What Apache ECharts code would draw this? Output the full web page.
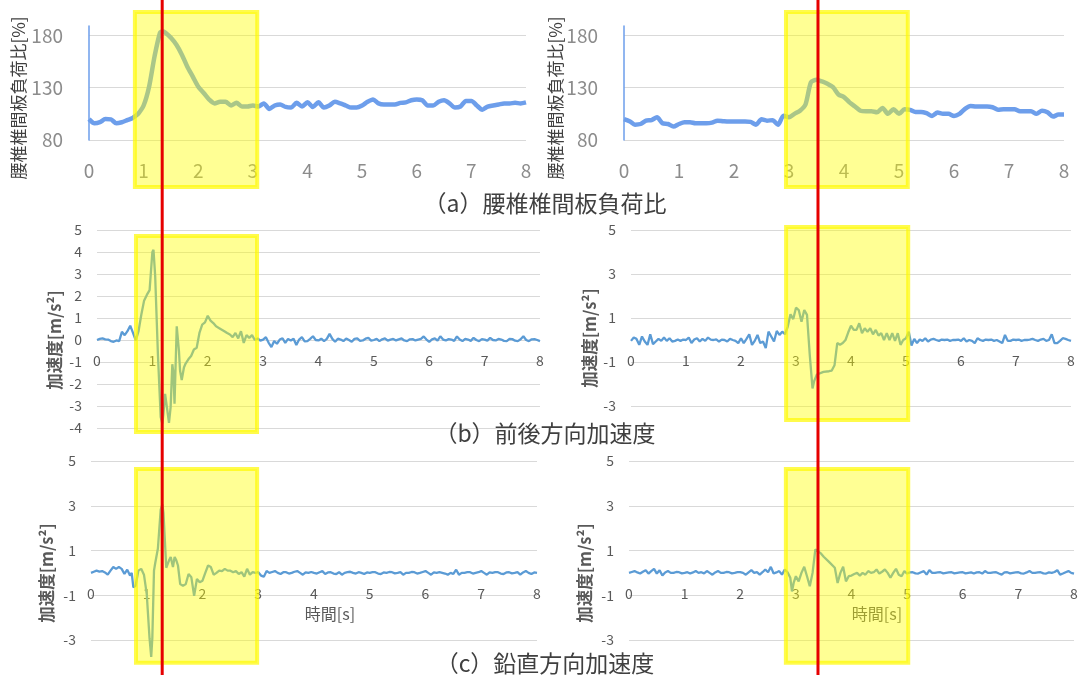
<!DOCTYPE html>
<html><head><meta charset="utf-8">
<script src="https://cdn.jsdelivr.net/npm/echarts@6/dist/echarts.min.js"></script>
<style>html,body{margin:0;padding:0;background:#fff}#c{width:1081px;height:675px}</style>
</head><body><div id="c"></div>
<script>
// ---- data: [time s, value] ----
const loadLeft = [[0,100],[0.1,96],[0.2,97],[0.3,100],[0.4,99.7],[0.5,96],[0.6,97],[0.7,99],[0.8,101],[0.85,103],[0.9,105],[1.0,113],[1.1,131],[1.2,160],[1.3,182.6],[1.35,184],[1.4,182.6],[1.5,177.7],[1.6,171],[1.7,161.6],[1.8,150],[1.9,140.6],[2.0,131],[2.1,125],[2.2,118.7],[2.3,115],[2.4,116.5],[2.5,116.5],[2.6,113],[2.7,115.5],[2.8,112],[2.9,112],[3.0,113],[3.1,112],[3.2,115],[3.3,109.7],[3.4,113],[3.5,114],[3.6,111.6],[3.7,111],[3.8,115.5],[3.9,112],[4.0,116],[4.1,111.6],[4.2,116],[4.3,111],[4.4,113],[4.5,116.5],[4.6,115],[4.7,113],[4.8,111],[4.9,111],[5.0,113],[5.1,116.5],[5.2,118.7],[5.3,115],[5.4,114],[5.5,114],[5.6,114],[5.7,115.5],[5.8,116],[5.9,118],[6.0,118.7],[6.1,118],[6.2,113],[6.3,113],[6.4,116.5],[6.5,118],[6.6,115],[6.7,111],[6.8,112],[6.9,117.4],[7.0,117.4],[7.1,113],[7.2,109],[7.3,112],[7.4,113],[7.5,114],[7.6,115],[7.7,115],[7.8,115.5],[7.9,115],[8.0,116]];
const loadRight = [[0,100],[0.1,98],[0.2,94.7],[0.3,95.3],[0.4,98.5],[0.5,99],[0.6,101.7],[0.7,96],[0.8,95.3],[0.9,92.8],[1.0,95.3],[1.1,97],[1.2,97],[1.3,96],[1.4,96],[1.5,96],[1.6,96.6],[1.7,98.5],[1.8,98],[1.9,97.6],[2.0,97.6],[2.1,97.6],[2.2,97.6],[2.3,97.3],[2.4,94.7],[2.5,99.8],[2.6,98.5],[2.7,99],[2.8,94.7],[2.9,103.3],[3.0,101.7],[3.1,105],[3.2,108],[3.3,114],[3.4,135.3],[3.5,137.5],[3.6,136],[3.7,133.7],[3.8,130.5],[3.9,123.5],[4.0,121],[4.1,116],[4.2,112],[4.3,108],[4.4,107.5],[4.5,107.5],[4.6,106.5],[4.7,110.7],[4.8,105],[4.9,109.4],[5.0,105],[5.1,109.4],[5.2,108.8],[5.3,106.8],[5.4,106.8],[5.5,105.6],[5.6,103],[5.7,106.2],[5.8,105],[5.9,105],[6.0,103],[6.1,105],[6.2,109.7],[6.3,112.6],[6.4,112],[6.5,112],[6.6,112],[6.7,111.3],[6.8,109],[6.9,109.4],[7.0,109.4],[7.1,109.4],[7.2,107.5],[7.3,107.5],[7.4,107.5],[7.5,105],[7.6,108],[7.7,106.5],[7.8,102.4],[7.9,104.3],[8.0,104.3]];
const foreAftLeft = [[0,0],[0.05,0.05],[0.1,0.07],[0.15,0.03],[0.2,0.02],[0.25,-0.05],[0.3,-0.08],[0.35,-0.02],[0.4,-0.05],[0.45,0.37],[0.5,0.22],[0.55,0.4],[0.6,0.65],[0.65,0.32],[0.7,-0.02],[0.75,0.4],[0.8,1.15],[0.85,1.78],[0.9,2.05],[0.95,2.27],[1.0,4.0],[1.02,4.1],[1.05,2.94],[1.1,-0.65],[1.15,-3.5],[1.18,-3.8],[1.2,-3.35],[1.23,-2.45],[1.26,-2.53],[1.3,-3.77],[1.33,-3.05],[1.36,-1.1],[1.38,-1.48],[1.4,-2.9],[1.42,-1.1],[1.44,0.62],[1.46,0.7],[1.48,-0.5],[1.5,-1.4],[1.53,-1.82],[1.57,-1.25],[1.6,-1.07],[1.65,-0.88],[1.7,-0.73],[1.75,-0.43],[1.8,-0.35],[1.85,0.32],[1.9,0.7],[1.95,0.8],[2.0,1.1],[2.05,0.88],[2.1,0.77],[2.15,0.62],[2.2,0.55],[2.3,0.4],[2.35,0.32],[2.4,0.25],[2.45,0.13],[2.5,0.32],[2.55,0.07],[2.6,0.4],[2.65,-0.13],[2.7,0.22],[2.75,0.1],[2.8,0.22],[2.85,0],[2.9,0.07],[2.95,-0.03],[3.0,0.02],[3.05,0.13],[3.1,-0.13],[3.15,-0.32],[3.2,-0.05],[3.25,-0.17],[3.3,0.02],[3.35,0.08],[3.4,-0.13],[3.45,0.05],[3.5,-0.02],[3.55,0.06],[3.6,-0.23],[3.65,0.02],[3.7,0.13],[3.75,-0.06],[3.8,-0.05],[3.85,0.05],[3.9,0.17],[3.95,0.0],[4.0,-0.02],[4.05,0.06],[4.1,-0.05],[4.15,0.05],[4.2,0.28],[4.25,0.05],[4.3,-0.08],[4.35,0.06],[4.4,0.02],[4.45,-0.05],[4.5,0.07],[4.55,0.0],[4.6,-0.08],[4.65,0.05],[4.7,0.07],[4.75,-0.04],[4.8,-0.02],[4.85,0.06],[4.9,0.1],[4.95,-0.03],[5.0,0],[5.05,0.05],[5.1,-0.05],[5.15,0.03],[5.2,0.07],[5.25,-0.03],[5.3,0.02],[5.35,0.05],[5.4,-0.02],[5.45,0.03],[5.5,0.07],[5.55,-0.02],[5.6,-0.05],[5.65,0.03],[5.7,0.04],[5.75,-0.02],[5.8,0.02],[5.85,0.05],[5.9,0.16],[5.95,0.02],[6.0,-0.08],[6.05,0.03],[6.1,0.07],[6.15,-0.03],[6.2,0.17],[6.25,0.02],[6.3,-0.02],[6.35,0.04],[6.4,0.02],[6.45,-0.04],[6.5,0.16],[6.55,0.02],[6.6,-0.05],[6.65,0.05],[6.7,0.02],[6.75,-0.04],[6.8,0.1],[6.85,0.0],[6.9,-0.05],[6.95,0.04],[7.0,0.02],[7.05,-0.03],[7.1,0.1],[7.15,0.0],[7.2,-0.02],[7.25,0.05],[7.3,0.02],[7.35,-0.04],[7.4,-0.05],[7.45,0.05],[7.5,0.04],[7.55,-0.03],[7.6,-0.05],[7.65,0.03],[7.7,0.17],[7.75,0.0],[7.8,-0.05],[7.85,0.03],[7.9,0.04],[7.95,0.0],[8.0,-0.05]];
const foreAftRight = [[0,-0.04],[0.05,0.11],[0.1,0.05],[0.15,-0.22],[0.2,0.16],[0.25,-0.07],[0.3,-0.22],[0.35,0.26],[0.4,-0.19],[0.45,-0.07],[0.5,0.05],[0.55,-0.04],[0.6,0.11],[0.65,-0.04],[0.7,0.08],[0.75,-0.07],[0.8,-0.04],[0.85,0.02],[0.9,-0.04],[0.95,0.02],[1.0,0],[1.05,0.11],[1.1,-0.14],[1.15,0.02],[1.2,0.08],[1.25,-0.07],[1.3,0.05],[1.35,-0.04],[1.4,0.11],[1.45,0.02],[1.5,0],[1.55,0.03],[1.6,-0.07],[1.65,0.02],[1.7,0],[1.75,-0.07],[1.8,0.05],[1.85,0.0],[1.9,-0.04],[1.95,-0.14],[2.0,0.08],[2.05,-0.14],[2.1,0.05],[2.15,0.26],[2.2,-0.22],[2.25,-0.04],[2.3,0.23],[2.35,-0.14],[2.4,-0.07],[2.45,-0.37],[2.5,0.38],[2.55,0.16],[2.6,-0.07],[2.65,0.41],[2.7,0.23],[2.75,0.38],[2.8,0.26],[2.85,0.61],[2.9,1.17],[2.95,0.95],[3.0,1.47],[3.05,1.36],[3.1,0.83],[3.15,1.36],[3.2,1.14],[3.25,-0.67],[3.3,-2.2],[3.33,-1.87],[3.38,-1.57],[3.5,-1.45],[3.6,-1.42],[3.65,-1.39],[3.7,-1.15],[3.75,-0.14],[3.8,-0.22],[3.85,-0.14],[3.9,0],[3.95,0.35],[4.0,0.65],[4.05,0.46],[4.1,0.46],[4.15,0.76],[4.2,0.31],[4.25,0.53],[4.3,0.38],[4.35,0.53],[4.4,0.26],[4.45,0.46],[4.5,0.2],[4.55,0.31],[4.6,0],[4.65,0.31],[4.7,0],[4.75,0.31],[4.8,-0.04],[4.85,0.31],[4.9,-0.22],[4.95,0],[5.0,0.08],[5.05,0.38],[5.1,-0.25],[5.15,0.05],[5.2,-0.14],[5.25,0.02],[5.3,-0.04],[5.35,0.08],[5.4,-0.07],[5.45,0.02],[5.5,0.05],[5.55,0.0],[5.6,-0.04],[5.65,0.02],[5.7,0],[5.75,0.02],[5.8,-0.04],[5.85,0.0],[5.9,0],[5.95,0.02],[6.0,-0.04],[6.05,0.08],[6.1,-0.07],[6.15,0.0],[6.2,-0.04],[6.25,-0.14],[6.3,0.08],[6.35,0.0],[6.4,-0.04],[6.45,0.02],[6.5,0],[6.55,0.02],[6.6,-0.04],[6.65,0.0],[6.7,-0.07],[6.75,-0.14],[6.8,0.23],[6.85,-0.04],[6.9,-0.04],[6.95,0.02],[7.0,0],[7.05,0.02],[7.1,-0.04],[7.15,0.0],[7.2,0],[7.25,0.02],[7.3,0.05],[7.35,0.0],[7.4,-0.04],[7.45,0.02],[7.5,0.05],[7.55,-0.04],[7.6,0],[7.65,0.26],[7.7,-0.14],[7.75,-0.14],[7.8,-0.04],[7.85,0.08],[7.9,0.05],[7.95,0.0],[8.0,-0.04]];
const verticalLeft = [[0,0],[0.05,0.05],[0.1,0.1],[0.15,0.06],[0.2,0.08],[0.25,0.02],[0.3,-0.08],[0.35,0.1],[0.4,0.26],[0.45,0.18],[0.5,0.26],[0.55,0.18],[0.6,-0.05],[0.65,0.14],[0.7,-0.12],[0.73,0],[0.76,-0.65],[0.8,-0.58],[0.85,0.1],[0.9,0.18],[0.95,-0.08],[1.0,-0.95],[1.05,-2.92],[1.08,-3.76],[1.1,-2.92],[1.13,0.1],[1.15,0.41],[1.2,1.09],[1.25,2.83],[1.28,3.06],[1.3,2.68],[1.35,0.23],[1.4,0.56],[1.43,0.71],[1.47,0.26],[1.5,0.71],[1.53,0.56],[1.56,0.33],[1.6,-0.5],[1.65,-0.58],[1.7,-0.5],[1.75,-0.05],[1.8,-0.2],[1.85,-1.03],[1.9,-0.27],[1.95,-0.42],[2.0,-0.35],[2.05,0],[2.1,0.33],[2.15,0.26],[2.2,-0.08],[2.25,0],[2.3,0.1],[2.35,0.08],[2.4,0.18],[2.45,0.1],[2.5,0.1],[2.55,0.03],[2.6,0.08],[2.65,-0.05],[2.7,0.03],[2.75,-0.17],[2.8,0.18],[2.85,-0.08],[2.9,0.03],[2.95,0],[3.0,0.03],[3.05,-0.12],[3.1,-0.17],[3.15,0.08],[3.2,0],[3.25,0.04],[3.3,0.08],[3.35,0.0],[3.4,-0.05],[3.45,0.03],[3.5,0.03],[3.55,-0.03],[3.6,0],[3.65,0.05],[3.7,0.08],[3.75,0.0],[3.8,-0.08],[3.85,0.02],[3.9,0],[3.95,0.04],[4.0,0],[4.05,-0.03],[4.1,0.03],[4.15,0.08],[4.2,-0.05],[4.25,0.02],[4.3,0.03],[4.35,-0.03],[4.4,-0.05],[4.45,0.03],[4.5,-0.08],[4.55,0.0],[4.6,0.03],[4.65,0.05],[4.7,0],[4.75,-0.03],[4.8,0.03],[4.85,0.0],[4.9,-0.05],[4.95,0.02],[5.0,0],[5.05,0.03],[5.1,0.03],[5.15,-0.03],[5.2,-0.05],[5.25,0.02],[5.3,0],[5.35,0.04],[5.4,0.03],[5.45,-0.02],[5.5,0],[5.55,0.03],[5.6,-0.08],[5.65,0.0],[5.7,0],[5.75,0.04],[5.8,0.03],[5.85,-0.03],[5.9,0],[5.95,0.04],[6.0,0.08],[6.05,0.0],[6.1,-0.08],[6.15,0.02],[6.2,0],[6.25,0.03],[6.3,0],[6.35,-0.03],[6.4,-0.08],[6.45,0.0],[6.5,-0.05],[6.55,0.14],[6.6,-0.08],[6.65,0.0],[6.7,0],[6.75,0.03],[6.8,0.03],[6.85,-0.03],[6.9,0],[6.95,0.03],[7.0,0.08],[7.05,0.0],[7.1,-0.08],[7.15,0.02],[7.2,0],[7.25,0.03],[7.3,0.03],[7.35,-0.03],[7.4,-0.05],[7.45,0.02],[7.5,0.03],[7.55,-0.02],[7.6,0],[7.65,0.03],[7.7,-0.08],[7.75,0.02],[7.8,0.08],[7.85,0.0],[7.9,-0.05],[7.95,0.02],[8.0,0]];
const verticalRight = [[0,0],[0.05,0.04],[0.1,0.08],[0.15,0.02],[0.2,-0.03],[0.25,0.05],[0.3,0.12],[0.35,-0.03],[0.4,0.08],[0.45,0.18],[0.5,-0.03],[0.55,0.12],[0.6,-0.12],[0.65,0.02],[0.7,0.08],[0.75,0.0],[0.8,0],[0.85,0.04],[0.9,0.03],[0.95,-0.02],[1.0,0],[1.05,0.03],[1.1,-0.03],[1.15,0.02],[1.2,0.08],[1.25,0.0],[1.3,0.03],[1.35,-0.02],[1.4,0.08],[1.45,0.0],[1.5,-0.08],[1.55,0.02],[1.6,0.08],[1.65,0.0],[1.7,0],[1.75,0.04],[1.8,0.03],[1.85,-0.02],[1.9,0],[1.95,0.03],[2.0,0.03],[2.05,0.0],[2.1,-0.08],[2.15,0.02],[2.2,0.12],[2.25,0.0],[2.3,0.03],[2.35,-0.08],[2.4,0.03],[2.45,0.15],[2.5,0.03],[2.55,0.27],[2.6,-0.03],[2.65,0.02],[2.7,0.08],[2.75,-0.08],[2.8,0.15],[2.85,0.03],[2.9,-0.22],[2.93,-0.83],[2.96,-0.45],[3.0,-0.15],[3.05,-0.38],[3.1,0],[3.15,0.27],[3.2,-0.15],[3.25,-0.6],[3.3,0],[3.35,1.05],[3.38,1.13],[3.45,0.87],[3.5,0.72],[3.6,0.48],[3.7,0.23],[3.75,-0.45],[3.8,0],[3.85,0.27],[3.9,-0.38],[3.95,-0.15],[4.0,-0.12],[4.05,-0.05],[4.1,0],[4.15,-0.12],[4.2,0],[4.25,-0.08],[4.3,0.08],[4.35,0.0],[4.4,0.03],[4.45,0.15],[4.5,-0.03],[4.55,0.05],[4.6,0.15],[4.65,0.0],[4.7,-0.22],[4.75,0],[4.8,0.18],[4.85,-0.08],[4.9,-0.15],[4.95,0.08],[5.0,-0.03],[5.05,0.02],[5.1,0.03],[5.15,-0.02],[5.2,-0.03],[5.25,0.03],[5.3,0.08],[5.35,-0.08],[5.4,0.12],[5.45,0.0],[5.5,0],[5.55,0.02],[5.6,0.03],[5.65,-0.02],[5.7,0],[5.75,0.02],[5.8,0.03],[5.85,-0.02],[5.9,0],[5.95,0.02],[6.0,0.03],[6.05,-0.02],[6.1,0],[6.15,0.02],[6.2,-0.03],[6.25,0.02],[6.3,0.03],[6.35,-0.03],[6.4,0.08],[6.45,0.0],[6.5,0],[6.55,0.02],[6.6,0.03],[6.65,-0.03],[6.7,-0.08],[6.75,0.02],[6.8,0.03],[6.85,-0.02],[6.9,0],[6.95,0.02],[7.0,0.03],[7.05,-0.02],[7.1,-0.03],[7.15,0.02],[7.2,0.08],[7.25,0.0],[7.3,0],[7.35,0.02],[7.4,0.03],[7.45,-0.02],[7.5,-0.03],[7.55,0.02],[7.6,0],[7.65,0.04],[7.7,0.12],[7.75,-0.08],[7.8,-0.03],[7.85,0.03],[7.9,0.08],[7.95,0.0],[8.0,-0.03]];

// tick labels / axis ranges
const timeTicks = [0, 8, 1];            // min, max, step (s)
const loadTicks = [80, 189, 50];        // 80,130,180
const foreAftLeftTicks = [-4, 5, 1];
const foreAftRightTicks = [-3, 5, 2];
const verticalTicks = [-3, 5, 2];

// highlighted windows [t0, t1, yLow, yHigh] (data units of each panel)
const windowLoadLeft = [0.84, 3.08, 35.1, 202.4];
const windowLoadRight = [2.945, 5.16, 35.1, 202.4];
const windowForeAftLeft = [0.704, 2.89, -4.18, 4.73];
const windowForeAftRight = [2.82, 5.04, -3.64, 5.14];
const windowVerticalLeft = [0.807, 2.98, -4.02, 4.64];
const windowVerticalRight = [2.82, 5.02, -4.02, 4.64];
// instants marked by red line (s, on load panels)
const markTimeLeft = 1.34;
const markTimeRight = 3.527;

const captions = ['（a）腰椎椎間板負荷比', '（b）前後方向加速度', '（c）鉛直方向加速度'];
const loadName = '腰椎椎間板負荷比[%]';
const accName = '加速度[m/s²]';
const timeName = '時間[s]';

// ---- chart ----
const FONT = '"Noto Sans CJK JP", "Noto Sans", sans-serif';
const grids = [
  {left: 89, top: 26, width: 437, height: 114},
  {left: 624, top: 26, width: 440, height: 114},
  {left: 97, top: 230, width: 443, height: 198},
  {left: 631, top: 230, width: 440, height: 176},
  {left: 91, top: 461, width: 446, height: 179},
  {left: 629, top: 461, width: 445, height: 179}
];
function xAx(i, big) {
  return {
    type: 'value', gridIndex: i, min: timeTicks[0], max: timeTicks[1], interval: timeTicks[2],
    axisLine: {show: false}, axisTick: {show: false}, splitLine: {show: false},
    axisLabel: big ? {fontSize: 19, color: '#8c8c8c', margin: 21, fontFamily: FONT}
                   : {fontSize: 14, color: '#595959', margin: 14, fontFamily: FONT}
  };
}
function yAx(i, t, big) {
  return {
    type: 'value', gridIndex: i, min: t[0], max: t[1], interval: t[2],
    axisLine: big ? {show: true, lineStyle: {color: '#6d9eeb', width: 1.5}} : {show: false},
    axisTick: {show: false},
    splitLine: {show: true, showMaxLine: !big, lineStyle: {color: '#d9d9d9', width: 1}},
    axisLabel: big ? {fontSize: 19, color: '#8c8c8c', margin: 26, showMaxLabel: false, fontFamily: FONT}
                   : {fontSize: 14, color: '#595959', margin: 15, fontFamily: FONT}
  };
}
function ser(i, data, big) {
  return {
    type: 'line', xAxisIndex: i, yAxisIndex: i, data: data, showSymbol: false, symbol: 'none',
    smooth: big ? 0.25 : false, z: 2, clip: false,
    lineStyle: big ? {color: '#6d9eeb', width: 4.5} : {color: '#5b9bd5', width: 2.3}
  };
}
const option = {
  animation: false,
  backgroundColor: '#ffffff',
  grid: grids,
  xAxis: [xAx(0, true), xAx(1, true), xAx(2, false), xAx(3, false), xAx(4, false), xAx(5, false)],
  yAxis: [yAx(0, loadTicks, true), yAx(1, loadTicks, true), yAx(2, foreAftLeftTicks, false),
          yAx(3, foreAftRightTicks, false), yAx(4, verticalTicks, false), yAx(5, verticalTicks, false)],
  series: [ser(0, loadLeft, true), ser(1, loadRight, true), ser(2, foreAftLeft, false),
           ser(3, foreAftRight, false), ser(4, verticalLeft, false), ser(5, verticalRight, false)]
};
const chart = echarts.init(document.getElementById('c'), null, {renderer: 'canvas'});
chart.setOption(option);

function px(gi, x, y) { return chart.convertToPixel({gridIndex: gi}, [x, y]); }

// place the time-axis labels of the acceleration panels at the zero line (Excel style)
const yMins = [loadTicks[0], loadTicks[0], foreAftLeftTicks[0], foreAftRightTicks[0], verticalTicks[0], verticalTicks[0]];
const xAxisPatch = yMins.map(function (m, i) {
  if (i < 2) return {};
  return {offset: px(i, 0, 0)[1] - px(i, 0, m)[1]};
});
chart.setOption({xAxis: xAxisPatch});

const elements = [];
function txt(text, x, y, size, color, weight, rot) {
  elements.push({type: 'text', x: x, y: y, rotation: rot || 0, z: 1,
    style: {text: text, fontSize: size, fontFamily: FONT, fill: color, fontWeight: weight || 'normal',
            textAlign: 'center', textVerticalAlign: 'middle', align: 'center', verticalAlign: 'middle'}});
}
// captions and axis names
txt(captions[0], 545, 203, 23, '#404040');
txt(captions[1], 545, 433, 23, '#404040');
txt(captions[2], 545, 663, 23, '#404040');
txt(loadName, 19, 98, 17, '#404040', 'normal', Math.PI / 2);
txt(loadName, 556, 98, 17, '#404040', 'normal', Math.PI / 2);
txt(accName, 55, 340, 16.5, '#595959', 'bold', Math.PI / 2);
txt(accName, 590, 338, 16.5, '#595959', 'bold', Math.PI / 2);
txt(accName, 47, 573, 16.5, '#595959', 'bold', Math.PI / 2);
txt(accName, 585, 573, 16.5, '#595959', 'bold', Math.PI / 2);
txt(timeName, 330, 614, 16, '#595959');
txt(timeName, 877, 614, 16, '#595959');
// highlight windows (drawn over the traces, semi-transparent)
[[0, windowLoadLeft], [1, windowLoadRight], [2, windowForeAftLeft], [3, windowForeAftRight],
 [4, windowVerticalLeft], [5, windowVerticalRight]].forEach(function (w) {
  const a = px(w[0], w[1][0], w[1][3]);
  const b = px(w[0], w[1][1], w[1][2]);
  elements.push({type: 'rect', z: 100,
    shape: {x: a[0], y: a[1], width: b[0] - a[0], height: b[1] - a[1]},
    style: {fill: 'rgba(255,255,0,0.42)', stroke: 'rgba(255,250,0,0.7)', lineWidth: 4}});
});
// red marker lines across the whole figure
[px(0, markTimeLeft, 100)[0], px(1, markTimeRight, 100)[0]].forEach(function (x) {
  elements.push({type: 'line', z: 110, shape: {x1: x, y1: 0, x2: x, y2: 675},
    style: {stroke: '#e60000', lineWidth: 3}});
});
chart.setOption({graphic: {elements: elements}});
</script>
</body></html>
